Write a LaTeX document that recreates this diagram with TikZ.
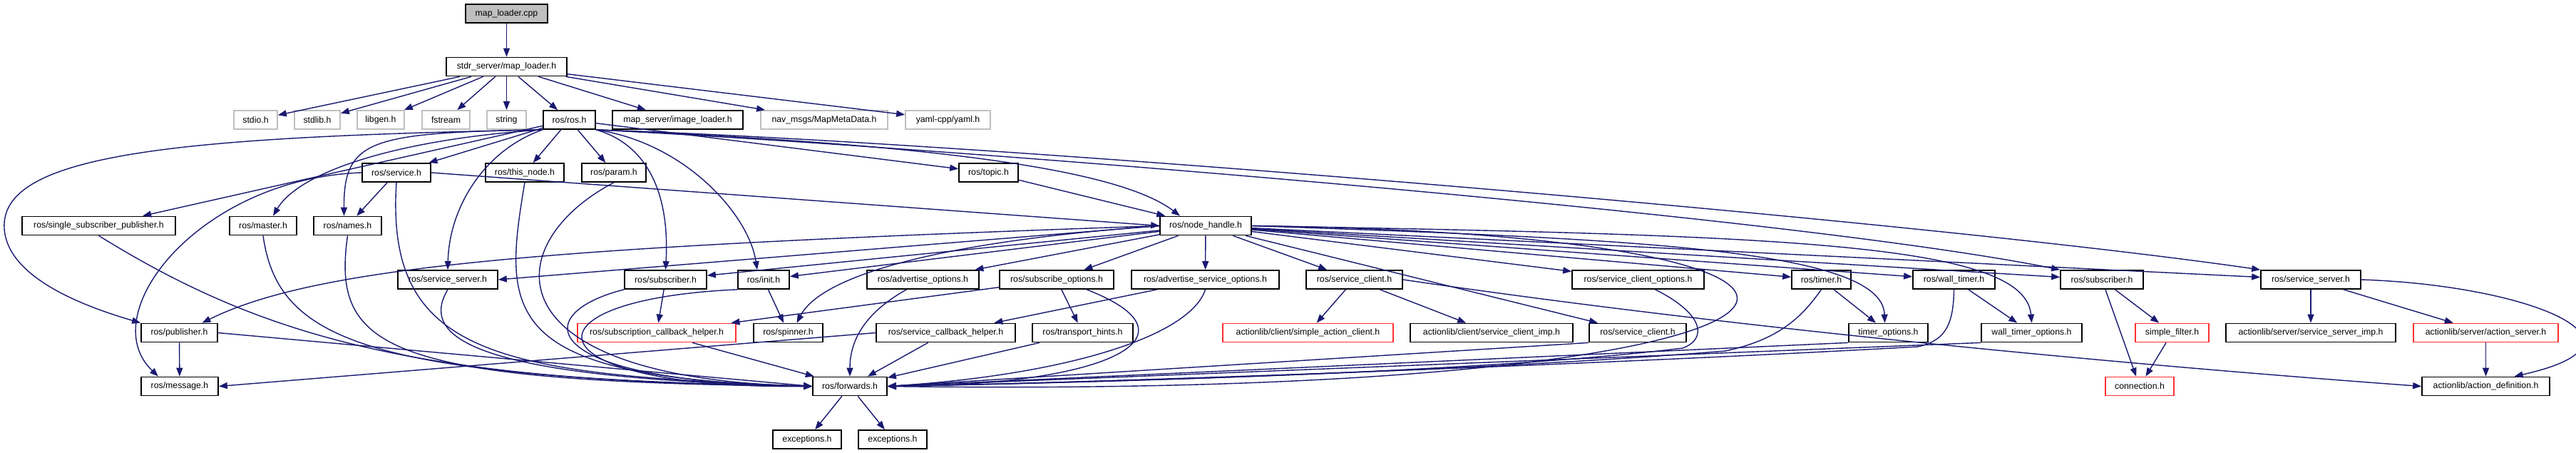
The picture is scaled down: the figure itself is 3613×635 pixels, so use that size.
\documentclass[tikz,border=0pt]{standalone}
\usepackage{fontspec}
\setmainfont{Liberation Sans}
\usetikzlibrary{arrows.meta, calc}

\definecolor{edgeblue}{HTML}{191970}
\definecolor{greyline}{HTML}{BFBFBF}
\definecolor{redline}{HTML}{FF3030}

\begin{document}
\begin{tikzpicture}[
    x=0.02cm, y=-0.02cm,
    file/.style={
        rectangle, draw=black, line width=1pt, fill=white,
        minimum width=2cm, minimum height=0.52cm, inner xsep=2pt, inner ysep=1pt,
        font=\fontsize{7}{8.4}\selectfont
    },
    sysfile/.style={file, draw=greyline},
    missing/.style={file, draw=redline},
    root/.style={file, fill=greyline},
    dep/.style={->, draw=edgeblue, line width=0.8pt},
    >={Triangle[length=0.24cm, width=0.18cm]}
]
\useasboundingbox (0,0) rectangle (3613,635);

\node[root, minimum width=2.30cm] (cpp) at (710.5, 19) {map\_loader.cpp};
\node[file, minimum width=3.38cm] (mlh) at (710.5, 93.5) {stdr\_server/map\_loader.h};

\node[sysfile, minimum width=1.22cm] (stdio) at (358.5, 168) {stdio.h};
\node[sysfile, minimum width=1.28cm] (stdlib) at (445, 168) {stdlib.h};
\node[sysfile, minimum width=1.32cm] (libgen) at (534, 168) {libgen.h};
\node[sysfile, minimum width=1.34cm] (fstream) at (625.5, 168) {fstream};
\node[sysfile, minimum width=1.10cm] (string) at (710.5, 168) {string};
\node[file, minimum width=1.46cm] (rosh) at (798.5, 168) {ros/ros.h};
\node[file, minimum width=3.66cm] (imgl) at (950.5, 168) {map\_server/image\_loader.h};
\node[sysfile, minimum width=3.56cm] (meta) at (1156, 168) {nav\_msgs/MapMetaData.h};
\node[sysfile, minimum width=2.38cm] (yaml) at (1329.5, 168) {yaml-cpp/yaml.h};

\node[file, minimum width=1.92cm] (service) at (556, 242) {ros/service.h};
\node[file, minimum width=2.20cm] (thisnode) at (736, 242) {ros/this\_node.h};
\node[file, minimum width=1.80cm] (param) at (861, 242) {ros/param.h};
\node[file, minimum width=1.66cm] (topic) at (1386.5, 242) {ros/topic.h};

\node[file, minimum width=4.30cm] (ssp) at (138.5, 316.5) {ros/single\_subscriber\_publisher.h};
\node[file, minimum width=1.88cm] (master) at (369, 316.5) {ros/master.h};
\node[file, minimum width=1.90cm] (names) at (487.5, 316.5) {ros/names.h};
\node[file, minimum width=2.56cm] (nh) at (1691, 316.5) {ros/node\_handle.h};

\node[file, minimum width=2.80cm] (srvsrvL) at (628, 392) {ros/service\_server.h};
\node[file, minimum width=2.30cm] (subL) at (933.5, 392) {ros/subscriber.h};
\node[file, minimum width=1.44cm] (init) at (1071, 392) {ros/init.h};
\node[file, minimum width=3.14cm] (advopt) at (1294.5, 392) {ros/advertise\_options.h};
\node[file, minimum width=3.20cm] (subopt) at (1482, 392) {ros/subscribe\_options.h};
\node[file, minimum width=4.14cm] (advsrvopt) at (1690.5, 392) {ros/advertise\_service\_options.h};
\node[file, minimum width=2.70cm] (srvcl) at (1899.5, 392) {ros/service\_client.h};
\node[file, minimum width=3.70cm] (srvclopt) at (2297.5, 392) {ros/service\_client\_options.h};
\node[file, minimum width=1.66cm] (timer) at (2554.5, 392) {ros/timer.h};
\node[file, minimum width=2.30cm] (wtimer) at (2740.5, 392) {ros/wall\_timer.h};
\node[file, minimum width=2.32cm] (subR) at (2948, 392) {ros/subscriber.h};
\node[file, minimum width=2.80cm] (srvsrvR) at (3241, 392) {ros/service\_server.h};

\node[file, minimum width=2.14cm] (pub) at (251.5, 466.5) {ros/publisher.h};
\node[missing, minimum width=4.44cm] (sch) at (921, 466.5) {ros/subscription\_callback\_helper.h};
\node[file, minimum width=1.94cm] (spinner) at (1105.5, 466.5) {ros/spinner.h};
\node[file, minimum width=3.90cm] (svch) at (1326.5, 466.5) {ros/service\_callback\_helper.h};
\node[file, minimum width=2.82cm] (hints) at (1518.5, 466.5) {ros/transport\_hints.h};
\node[missing, minimum width=4.78cm] (sac) at (1834.5, 466.5) {actionlib/client/simple\_action\_client.h};
\node[file, minimum width=4.56cm] (scimp) at (2092, 466.5) {actionlib/client/service\_client\_imp.h};
\node[file, minimum width=2.72cm] (srvcl2) at (2297, 466.5) {ros/service\_client.h};
\node[file, minimum width=2.22cm] (topt) at (2648.5, 466.5) {timer\_options.h};
\node[file, minimum width=2.82cm] (wtopt) at (2849.5, 466.5) {wall\_timer\_options.h};
\node[missing, minimum width=2.06cm] (sfilt) at (3046.5, 466.5) {simple\_filter.h};
\node[file, minimum width=4.76cm] (ssimp) at (3241, 466.5) {actionlib/server/service\_server\_imp.h};
\node[missing, minimum width=4.06cm] (asrv) at (3486.5, 466.5) {actionlib/server/action\_server.h};

\node[file, minimum width=2.16cm] (msg) at (252, 541.5) {ros/message.h};
\node[file, minimum width=2.08cm] (fwd) at (1192, 541.5) {ros/forwards.h};
\node[missing, minimum width=1.92cm] (conn) at (3001, 541.5) {connection.h};
\node[file, minimum width=3.58cm] (adef) at (3486.5, 541.5) {actionlib/action\_definition.h};

\node[file, minimum width=1.92cm] (exc1) at (1132, 616) {exceptions.h};
\node[file, minimum width=1.92cm] (exc2) at (1252, 616) {exceptions.h};

\draw[dep] (cpp) -- (mlh);
\draw[dep] (mlh) -- (stdio);
\draw[dep] (mlh) -- (stdlib);
\draw[dep] (mlh) -- (libgen);
\draw[dep] (mlh) -- (fstream);
\draw[dep] (mlh) -- (string);
\draw[dep] (mlh) -- (rosh);
\draw[dep] (mlh) -- (imgl);
\draw[dep] (mlh) -- (meta);
\draw[dep] (mlh) -- (yaml);

\draw[dep] (rosh) -- (service);
\draw[dep] (rosh) -- (thisnode);
\draw[dep] (rosh) -- (param);
\draw[dep] (rosh) -- (topic);
\draw[dep] (rosh) -- (ssp);
\draw[dep] (rosh.south east) .. controls (1250,200) and (1560,230) .. ($(nh.north)+(-36,0)$);
\draw[dep] (rosh.south west) .. controls (560,195) and (420,240) .. ($(master.north)+(14,0)$);
\draw[dep] (rosh.south west) .. controls (520,186) and (482,195) .. ($(names.north)+(-5,0)$);
\draw[dep] (rosh.south west) .. controls (680,210) and (630,290) .. (srvsrvL.north);
\draw[dep] (rosh.south west) .. controls (250,192) and (0,215) .. (6,320) .. controls (10,390) and (120,430) .. (pub.north west);
\draw[dep] (rosh.south east) .. controls (900,200) and (940,260) .. (subL.north);
\draw[dep] (rosh.south east) .. controls (960,200) and (1050,300) .. ($(init.north)+(-9,0)$);
\draw[dep] (rosh.south east) .. controls (1300,205) and (2500,300) .. (subR.north west);
\draw[dep] (rosh.south east) .. controls (1400,200) and (2700,310) .. (srvsrvR.north west);

\draw[dep] (service) -- (names);
\draw[dep] (service.west) .. controls (280,250) and (130,440) .. ($(msg.north)+(-30,0)$);
\draw[dep] (service.south) .. controls (540,500) and (700,525) .. (fwd.west);
\draw[dep] (service.east) -- (nh.west);
\draw[dep] (thisnode.south) .. controls (705,440) and (700,530) .. (fwd.west);
\draw[dep] (param.south) .. controls (700,340) and (680,530) .. (fwd.west);
\draw[dep] (topic) -- (nh);

\draw[dep] (ssp.south) .. controls (380,480) and (600,535) .. (fwd.west);
\draw[dep] (master.south) .. controls (390,480) and (520,530) .. (fwd.west);
\draw[dep] (names.south) .. controls (465,490) and (540,535) .. (fwd.west);
\draw[dep] (srvsrvL.south) .. controls (590,470) and (650,530) .. (fwd.west);
\draw[dep] (subL.south west) .. controls (740,440) and (750,535) .. (fwd.west);
\draw[dep] (init.south west) .. controls (720,420) and (740,545) .. (fwd.west);
\draw[dep] (pub.east) -- (fwd.west);
\draw[dep] (pub) -- (msg);
\draw[dep] (subL) -- (sch);
\draw[dep] (sch) -- (fwd);
\draw[dep] (init) -- (spinner);

\draw[dep] (nh.west) .. controls (800,345) and (450,370) .. ($(pub.north)+(32,0)$);
\draw[dep] (nh.west) -- (srvsrvL.east);
\draw[dep] (nh) -- (subL);
\draw[dep] (nh) -- (init);
\draw[dep] (nh.west) .. controls (1300,340) and (1150,390) .. ($(spinner.north)+(12,0)$);
\draw[dep] (nh) -- (advopt);
\draw[dep] (nh) -- (subopt);
\draw[dep] (nh) -- (advsrvopt);
\draw[dep] (nh) -- (srvcl);
\draw[dep] (nh) -- (srvclopt);
\draw[dep] (nh) -- (timer);
\draw[dep] (nh) -- (wtimer);
\draw[dep] (nh) -- (subR);
\draw[dep] (nh) -- (srvsrvR);
\draw[dep] (nh) -- (srvcl2);
\draw[dep] (nh.east) .. controls (2300,335) and (2640,350) .. ($(topt.north)+(-5,0)$);
\draw[dep] (nh.east) .. controls (2500,330) and (2840,340) .. (wtopt.north);
\draw[dep] (nh.east) .. controls (2800,330) and (2650,560) .. (fwd.east);

\draw[dep] ($(advopt.south)+(-23,0)$) .. controls (1210,440) and (1192,480) .. (fwd.north);
\draw[dep] (subopt) -- (sch);
\draw[dep] (subopt) -- (hints);
\draw[dep] ($(subopt.south)+(42,0)$) .. controls (1690,470) and (1560,540) .. (fwd.east);
\draw[dep] (advsrvopt) -- (svch);
\draw[dep] (advsrvopt.south) .. controls (1670,470) and (1500,525) .. (fwd.east);
\draw[dep] (svch) -- (fwd);
\draw[dep] (svch.west) -- (msg.east);
\draw[dep] (hints) -- (fwd);

\draw[dep] (srvcl) -- (sac);
\draw[dep] (srvcl) -- (scimp);
\draw[dep] (srvcl.east) .. controls (2500,470) and (3100,520) .. (adef.west);
\draw[dep] (srvcl2.south west) -- (fwd.east);
\draw[dep] ($(srvclopt.south)+(24,0)$) .. controls (2390,440) and (2395,475) .. (2360,488) .. controls (2100,520) and (1600,535) .. (fwd.east);
\draw[dep] (timer.south) .. controls (2530,440) and (2500,475) .. (2420,492) .. controls (2100,518) and (1600,535) .. (fwd.east);
\draw[dep] (timer) -- (topt);
\draw[dep] (topt.south west) -- (fwd.east);
\draw[dep] (wtimer.south) .. controls (2740,460) and (2725,478) .. (2690,486) .. controls (2300,508) and (1600,535) .. (fwd.east);
\draw[dep] (wtimer) -- (wtopt);
\draw[dep] (wtopt.south west) -- (fwd.east);

\draw[dep] (subR) -- (sfilt);
\draw[dep] (subR) -- (conn);
\draw[dep] (sfilt) -- (conn);
\draw[dep] (srvsrvR) -- (ssimp);
\draw[dep] (srvsrvR) -- (asrv);
\draw[dep] (srvsrvR.east) .. controls (3550,400) and (3740,480) .. ($(adef.north)+(40,0)$);
\draw[dep] (asrv) -- (adef);

\draw[dep] (fwd) -- (exc1);
\draw[dep] (fwd) -- (exc2);

\end{tikzpicture}
\end{document}
